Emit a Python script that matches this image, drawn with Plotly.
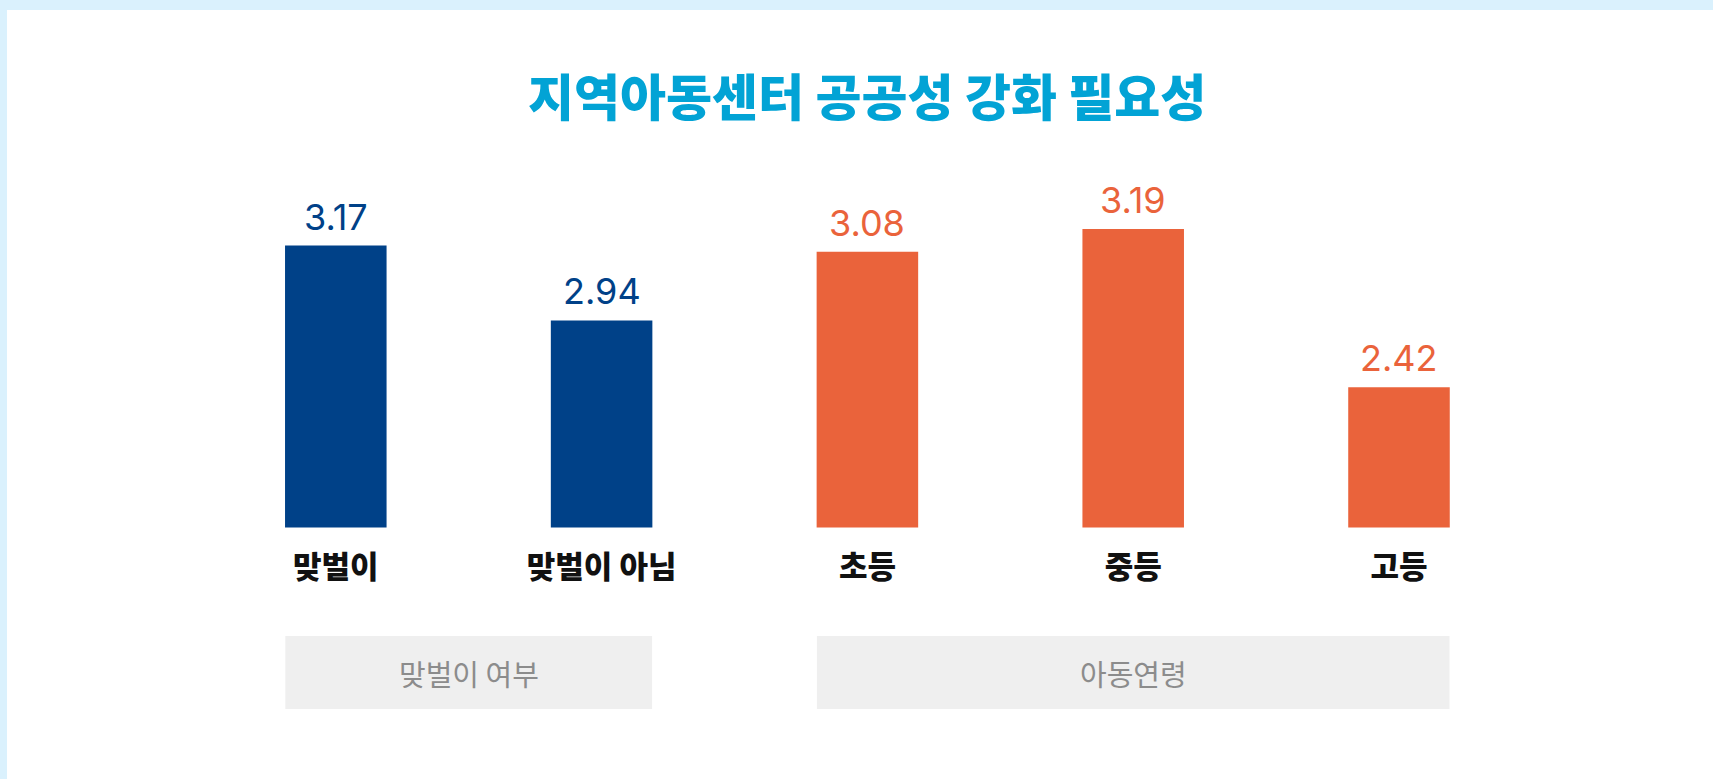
import plotly.graph_objects as go

# data
categories = ['맞벌이', '맞벌이 아님', '초등', '중등', '고등']
dual_income_labels = ['맞벌이', '맞벌이 아님']
dual_income_values = [3.17, 2.94]
child_age_labels = ['초등', '중등', '고등']
child_age_values = [3.08, 3.19, 2.42]
group_names = ['맞벌이 여부', '아동연령']
title_text = '지역아동센터 공공성 강화 필요성'

W, H = 1713, 779
BLUE = '#004188'
ORANGE = '#ea633b'
KR = 'Noto Sans CJK KR'
NUM = 'Inter, Lato, sans-serif'


def px_x(p):
    return p / W


def px_y(p):
    return 1 - p / H


fig = go.Figure()
fig.add_trace(go.Bar(
    x=dual_income_labels, y=dual_income_values,
    marker=dict(color=BLUE, line=dict(width=0)),
    xaxis='x', yaxis='y', hoverinfo='x+y',
))
fig.add_trace(go.Bar(
    x=child_age_labels, y=child_age_values,
    marker=dict(color=ORANGE, line=dict(width=0)),
    xaxis='x', yaxis='y2', hoverinfo='x+y',
))

annotations = []
# value labels above bars
for labels, values, yref, color in [(dual_income_labels, dual_income_values, 'y', BLUE),
                                    (child_age_labels, child_age_values, 'y2', ORANGE)]:
    for lab, v in zip(labels, values):
        annotations.append(dict(x=lab, y=v, xref='x', yref=yref, text=f'{v:.2f}',
                                showarrow=False, yanchor='bottom', yshift=5,
                                font=dict(family=NUM, size=36, color=color)))

# background bands along top and left edge
shapes = [
    dict(type='rect', xref='paper', yref='paper', x0=0, x1=1, y0=px_y(10), y1=1,
         fillcolor='#daf1fd', line=dict(width=0), layer='below'),
    dict(type='rect', xref='paper', yref='paper', x0=0, x1=px_x(7), y0=0, y1=1,
         fillcolor='#daf1fd', line=dict(width=0), layer='below'),
]

# group boxes under the categories
half = 0.19
groups = [(0, 1), (2, 4)]
for (a, b), name in zip(groups, group_names):
    shapes.append(dict(type='rect', xref='x', yref='paper', x0=a - half, x1=b + half,
                       y0=px_y(709), y1=px_y(636), fillcolor='#efefef',
                       line=dict(width=0), layer='below'))
    annotations.append(dict(x=(a + b) / 2, y=px_y(673), xref='x', yref='paper',
                            text=name, showarrow=False, yanchor='middle',
                            font=dict(family=KR, size=29, color='#8c8c8c')))

annotations.append(dict(x=px_x(867), y=px_y(94), xref='paper', yref='paper',
                        text=title_text, showarrow=False, yanchor='middle',
                        font=dict(family=KR, size=50, color='#02a3d5', weight=900)))

fig.update_layout(
    width=W, height=H,
    margin=dict(l=0, r=0, t=0, b=0),
    paper_bgcolor='white', plot_bgcolor='white',
    showlegend=False, barmode='overlay', bargap=0.618,
    shapes=shapes, annotations=annotations,
    xaxis=dict(domain=[px_x(202.9), px_x(1531.9)], type='category',
               categoryorder='array', categoryarray=categories,
               showgrid=False, zeroline=False, showline=False, ticks='',
               ticklabelstandoff=18,
               tickfont=dict(family=KR, size=31, color='#111111', weight=900),
               fixedrange=True),
    yaxis=dict(domain=[px_y(527.5), px_y(150)], range=[2.305, 3.463],
               visible=False, fixedrange=True),
    yaxis2=dict(domain=[px_y(527.5), px_y(150)], range=[1.737, 3.575],
                overlaying='y', anchor='x', visible=False, fixedrange=True),
)

fig.write_html('out.html', config={'displayModeBar': False},
               post_script="document.body.style.margin='0';document.body.style.overflow='hidden';")
